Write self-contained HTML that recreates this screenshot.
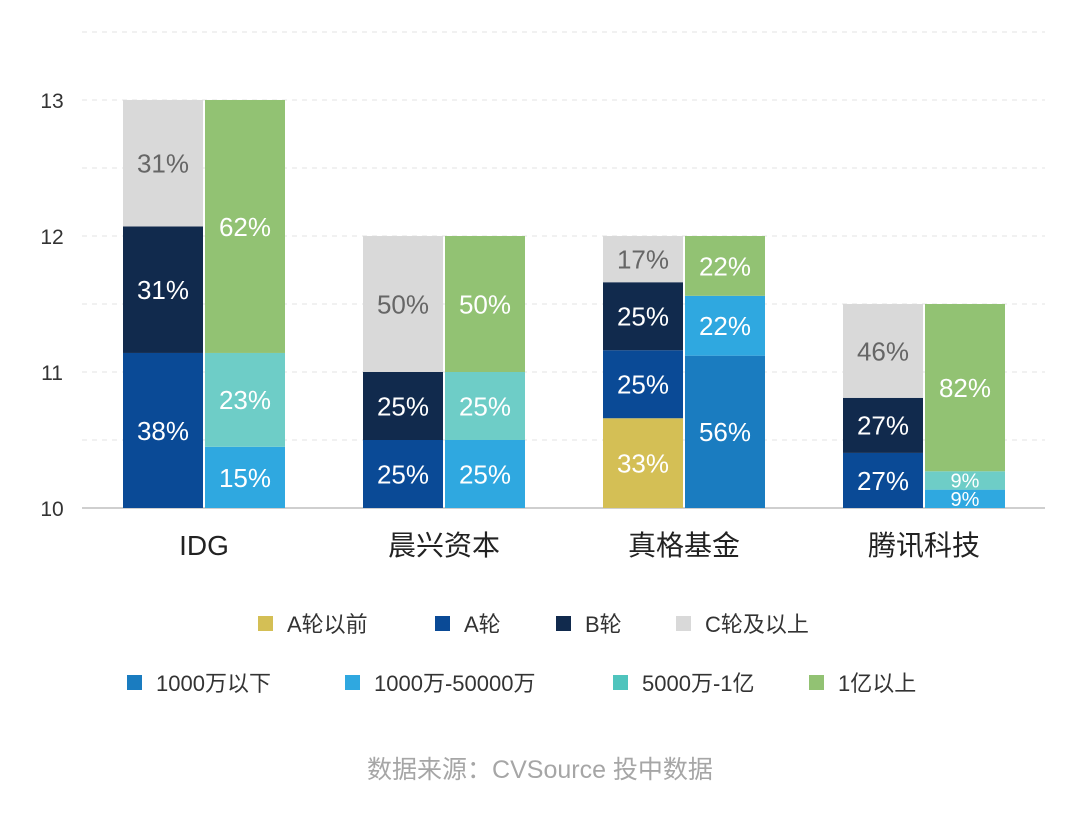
<!DOCTYPE html>
<html><head><meta charset="utf-8"><style>
body{margin:0;background:#fff;}
svg text{font-family:"Liberation Sans","Noto Sans CJK SC",sans-serif;}
</style></head><body>
<svg width="1080" height="811" viewBox="0 0 1080 811" id="c">
<g id="grid"></g><g id="bars"></g><g id="labels"></g>
<g id="legend"></g>
<text x="540" y="778" text-anchor="middle" font-size="25" fill="#a6a6a6">数据来源：CVSource 投中数据</text>
</svg>
<script>
const categories=["IDG","晨兴资本","真格基金","腾讯科技"];
const totals=[13,12,12,11.5];
const yTicks=[10,11,12,13];
const leftSeriesNames=["A轮以前","A轮","B轮","C轮及以上"];
const aPre=[0,0,33,0];
const aRound=[38,25,25,27];
const bRound=[31,25,25,27];
const cRound=[31,50,17,46];
const rightSeriesNames=["1000万以下","1000万-50000万","5000万-1亿","1亿以上"];
const under1000=[0,0,56,0];
const mid1000=[15,25,22,9];
const mid5000=[23,25,0,9];
const over1yi=[62,50,22,82];

const NS="http://www.w3.org/2000/svg";
const y=v=>508-(v-10)*136;
const xc=i=>204+i*240;
function mk(t,a,p){const e=document.createElementNS(NS,t);for(const k in a)e.setAttribute(k,a[k]);document.getElementById(p).appendChild(e);return e;}
for(let v=10;v<=13.5;v+=0.5){
 const l=mk('line',{x1:82,x2:1045,y1:y(v),y2:y(v),stroke:v===10?'#bfbfbf':'#e3e3e3','stroke-width':v===10?1.5:1,'stroke-dasharray':v===10?'':'5,5'},'grid');
 
 
}
yTicks.forEach(v=>{const t=mk('text',{x:52,y:y(v)+8,'text-anchor':'middle','font-size':21,fill:'#333'},'grid');t.textContent=v;
 
 });
const leftCols=["#d4bf55","#0a4a96","#112a4d","#d9d9d9"];
const rightCols=["#1a7cc0","#2fa8e0","#6ecdc7","#92c273"];
function stack(i,x,series,cols,names){
 let acc=0;const span=totals[i]-10;
 series.forEach((s,k)=>{const v=s[i];if(!v)return;
  const y0=y(10+span*acc/100);acc+=v;const y1=y(10+span*acc/100);
  const r=mk('rect',{x:x,y:y1,width:80,height:y0-y1,fill:cols[k]},'bars');
  
  
  const h=y0-y1;const fs=h<30?20:26;
  const t=mk('text',{x:x+40,y:(y0+y1)/2+fs*0.36,'text-anchor':'middle','font-size':fs,fill:cols[k]==='#d9d9d9'?'#666':'#fff'},'labels');
  t.textContent=v+'%';
  
  
 });
}
categories.forEach((c,i)=>{
 stack(i,xc(i)-81,[aPre,aRound,bRound,cRound],leftCols,leftSeriesNames);
 stack(i,xc(i)+1,[under1000,mid1000,mid5000,over1yi],rightCols,rightSeriesNames);
 const t=mk('text',{x:xc(i),y:555,'text-anchor':'middle','font-size':28,fill:'#222'},'labels');t.textContent=c;
 
 
});
const leg=[[leftSeriesNames,leftCols,[258,435,556,676],624],[rightSeriesNames,["#1a7cc0","#2fa8e0","#4fc4bd","#92c273"],[127,345,613,809],683]];
leg.forEach(([names,cols,xs,yy])=>names.forEach((n,k)=>{
 const r=mk('rect',{x:xs[k],y:yy-8,width:15,height:15,fill:cols[k]},'legend');
 
 
 const t=mk('text',{x:xs[k]+29,y:yy+8,'font-size':22,fill:'#333'},'legend');t.textContent=n;
 
 
}));
</script>
</body></html>
